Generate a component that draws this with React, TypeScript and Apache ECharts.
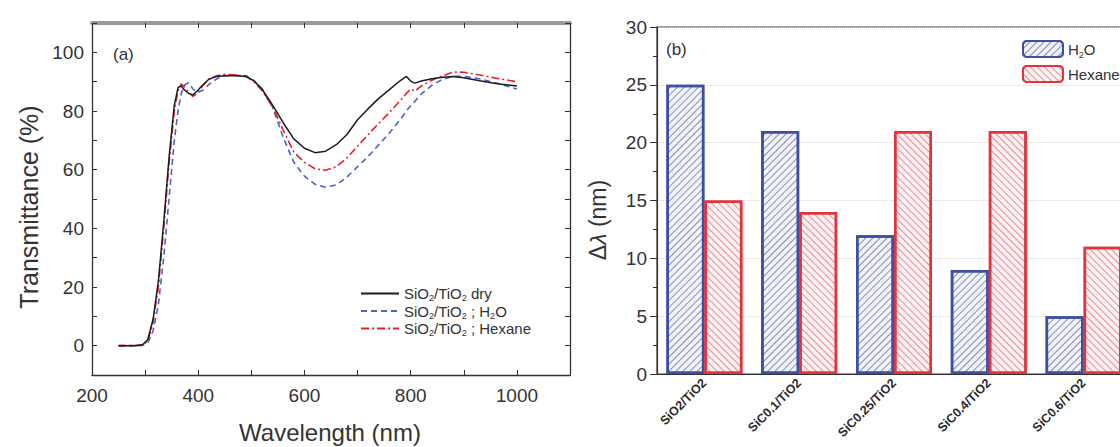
import React, { useEffect, useRef } from "react";
import * as echarts from "echarts";

// Transmission spectra (panel a)
const wavelengths = [
  250, 280, 295, 305, 315, 325, 335, 345, 355, 362, 368, 375, 382, 390, 398, 408, 420, 435, 450, 470, 490,
  505, 520, 540, 560, 580, 600, 620, 640, 660, 680, 700, 720, 740, 760, 780, 792, 800, 808, 820, 840, 860,
  880, 900, 930, 960, 1000,
];
const dryT = [
  0, 0, 0.3, 2, 9, 22, 42, 64, 82, 88, 88.5, 87, 86, 85.5, 86.8, 88.8, 90.8, 91.8, 92, 92, 91.8,
  90.3, 87.5, 82, 76, 70.5, 67.3, 65.8, 66.3, 68.5, 72, 77, 80.8, 84.3, 87.3, 90.3, 91.8, 90.2, 89.5, 90.2, 91, 91.5,
  91.8, 91.3, 90.3, 89.4, 88.5,
];
const waterT = [
  0, 0, 0.1, 1, 5, 14, 30, 50, 70, 80, 86, 89, 89.6, 87.5, 86.3, 87, 89, 91, 92, 92.2, 92,
  90.3, 87.5, 81.3, 71, 62.5, 57.8, 55, 54, 54.8, 57.5, 61, 64.5, 68.5, 72.5, 77, 80, 81.8, 83.3, 85.8, 88.8, 90.8,
  91.8, 91.8, 91, 89.6, 87.5,
];
const hexaneT = [
  0, 0, 0.2, 1.5, 8, 20, 40, 62, 80, 87, 89.3, 88, 86.3, 85, 86, 88.5, 90.8, 92, 92.5, 92.3, 91.8,
  90, 87, 81.5, 73.5, 66, 62.5, 60.3, 59.8, 61, 64, 68, 72, 75.8, 79.5, 83.5, 86, 87.5, 86.8, 88.5, 90.5, 92,
  93.3, 93.2, 92.3, 91.2, 90,
];
const spectrumNames = ["SiO2/TiO2 dry", "SiO2/TiO2 ; H2O", "SiO2/TiO2 ; Hexane"];

// Peak shifts (panel b)
const samples = ["SiO2/TiO2", "SiC0.1/TiO2", "SiC0.25/TiO2", "SiC0.4/TiO2", "SiC0.6/TiO2"];
const shiftWater = [25, 21, 12, 9, 5];
const shiftHexane = [15, 14, 21, 21, 11];
const shiftNames = ["H2O", "Hexane"];

const FONT = "'Liberation Sans', Arial, Helvetica, sans-serif";
const INK = "#333";

// Turns the "2" of chemical formulas into a lowered rich-text token.
function richSub(text: string): string {
  let out = "";
  let buf = "";
  for (let i = 0; i < text.length; i++) {
    const ch = text[i];
    if (ch === "2" && i > 0 && /[A-Za-z]/.test(text[i - 1])) {
      if (buf) out += `{t|${buf}}`;
      buf = "";
      out += "{s|2}";
    } else {
      buf += ch;
    }
  }
  if (buf) out += `{t|${buf}}`;
  return out;
}

const pairs = (ys: number[]) => wavelengths.map((w, i) => [w, ys[i]]);

export default function App() {
  const ref = useRef<HTMLDivElement>(null);

  useEffect(() => {
    if (!ref.current) return;
    const chart = echarts.init(ref.current, undefined, { renderer: "svg" });

    const innerTick = { inside: true, length: 5, lineStyle: { color: INK, width: 1 } };
    const darkLine = { show: true, onZero: false, lineStyle: { color: INK, width: 1.3 } };

    const option: any = {
      animation: false,
      textStyle: { fontFamily: FONT },
      grid: [
        { left: 92, top: 23, width: 478, height: 352 },
        {
          left: 657, top: 27, width: 474, height: 347,
          show: true, borderColor: INK, borderWidth: 1.2, backgroundColor: "transparent",
        },
      ],
      xAxis: [
        {
          type: "value", gridIndex: 0, position: "bottom", min: 200, max: 1100, interval: 100,
          axisLine: darkLine,
          axisTick: innerTick,
          splitLine: { show: false },
          axisLabel: {
            fontSize: 19, color: INK, margin: 11, fontFamily: FONT,
            formatter: (v: number) => (v % 200 === 0 && v <= 1000 ? String(v) : ""),
          },
        },
        {
          type: "value", gridIndex: 0, position: "top", min: 200, max: 1100, interval: 100,
          axisLine: { show: true, onZero: false, lineStyle: { color: "#9a9a9a", width: 4 } },
          axisTick: innerTick,
          splitLine: { show: false },
          axisLabel: { show: false },
        },
        {
          type: "category", gridIndex: 1, data: samples,
          axisLine: { lineStyle: { color: INK, width: 1.2 } },
          axisTick: { alignWithLabel: true, length: 7, lineStyle: { color: INK } },
          axisLabel: {
            rotate: 45, interval: 0, fontSize: 12.5, fontWeight: "bold", margin: 7,
            color: "#2a2a2a", fontFamily: FONT,
          },
        },
      ],
      yAxis: [
        {
          type: "value", gridIndex: 0, position: "left", min: -10, max: 110, interval: 10,
          axisLine: darkLine,
          axisTick: innerTick,
          splitLine: { show: false },
          axisLabel: {
            fontSize: 19, color: INK, margin: 8, fontFamily: FONT,
            formatter: (v: number) => (v % 20 === 0 && v >= 0 && v <= 100 ? String(v) : ""),
          },
        },
        {
          type: "value", gridIndex: 0, position: "right", min: -10, max: 110, interval: 10,
          axisLine: darkLine,
          axisTick: innerTick,
          splitLine: { show: false },
          axisLabel: { show: false },
        },
        {
          type: "value", gridIndex: 1, min: 0, max: 30, interval: 5,
          axisLine: { show: true, lineStyle: { color: INK, width: 1.2 } },
          axisTick: { show: true, length: 7, lineStyle: { color: INK } },
          minorTick: { show: true, splitNumber: 2, length: 4, lineStyle: { color: INK } },
          splitLine: { show: true, lineStyle: { type: "dotted", color: "#d6d6d6", width: 1 } },
          axisLabel: { fontSize: 19, color: INK, margin: 10, fontFamily: FONT },
        },
      ],
      legend: [
        {
          data: spectrumNames,
          orient: "vertical",
          left: 355, top: 281,
          itemWidth: 38, itemHeight: 14, itemGap: 1,
          itemStyle: { opacity: 0, borderWidth: 0 },
          formatter: richSub,
          textStyle: {
            color: INK, fontSize: 15, fontFamily: FONT,
            rich: {
              t: { fontSize: 15, lineHeight: 18, fontFamily: FONT, color: INK },
              s: { fontSize: 9, lineHeight: 9, verticalAlign: "bottom", fontFamily: FONT, color: INK },
            },
          },
        },
        {
          data: shiftNames,
          orient: "vertical",
          left: 1017, top: 35,
          itemWidth: 40, itemHeight: 16, itemGap: 6,
          formatter: richSub,
          textStyle: {
            color: INK, fontSize: 15, fontFamily: FONT,
            rich: {
              t: { fontSize: 15, lineHeight: 20, fontFamily: FONT, color: INK },
              s: { fontSize: 9, lineHeight: 10, verticalAlign: "bottom", fontFamily: FONT, color: INK },
            },
          },
        },
      ],
      series: [
        {
          type: "line", name: spectrumNames[1], xAxisIndex: 0, yAxisIndex: 0,
          data: pairs(waterT), symbol: "none",
          lineStyle: { color: "#4d63c4", width: 1.6, type: [6, 4] },
          itemStyle: { color: "#4d63c4" },
        },
        {
          type: "line", name: spectrumNames[2], xAxisIndex: 0, yAxisIndex: 0,
          data: pairs(hexaneT), symbol: "none",
          lineStyle: { color: "#e5222b", width: 1.6, type: [8, 3, 2, 3] },
          itemStyle: { color: "#e5222b" },
        },
        {
          type: "line", name: spectrumNames[0], xAxisIndex: 0, yAxisIndex: 0,
          data: pairs(dryT), symbol: "none",
          lineStyle: { color: "#1c1c1c", width: 1.5 },
          itemStyle: { color: "#1c1c1c" },
        },
        {
          type: "bar", name: shiftNames[0], xAxisIndex: 2, yAxisIndex: 2,
          data: shiftWater, barWidth: 38, barGap: "0%",
          itemStyle: {
            color: "#f3f4f9", borderColor: "#3c4fa3", borderWidth: 2.5,
            decal: {
              symbol: "rect", symbolSize: 1, dashArrayX: [1, 0], dashArrayY: [0.9, 3.2],
              rotation: -Math.PI / 4, color: "rgba(60,75,145,0.6)",
            },
          },
        },
        {
          type: "bar", name: shiftNames[1], xAxisIndex: 2, yAxisIndex: 2,
          data: shiftHexane, barWidth: 38,
          itemStyle: {
            color: "#fdf2f3", borderColor: "#e3343d", borderWidth: 2.5,
            decal: {
              symbol: "rect", symbolSize: 1, dashArrayX: [1, 0], dashArrayY: [0.9, 3.2],
              rotation: Math.PI / 4, color: "rgba(215,75,85,0.6)",
            },
          },
        },
      ],
      graphic: [
        {
          type: "text", x: 113, y: 54,
          style: { text: "(a)", fontSize: 17, fontFamily: FONT, fill: INK, align: "left", verticalAlign: "middle" },
        },
        {
          type: "text", x: 666, y: 49,
          style: { text: "(b)", fontSize: 17, fontFamily: FONT, fill: INK, align: "left", verticalAlign: "middle" },
        },
        {
          type: "text", x: 29, y: 207, rotation: Math.PI / 2,
          style: { text: "Transmittance (%)", fontSize: 25, fontFamily: FONT, fill: INK, align: "center", verticalAlign: "middle" },
        },
        {
          type: "text", x: 330, y: 432,
          style: { text: "Wavelength (nm)", fontSize: 24, fontFamily: FONT, fill: INK, align: "center", verticalAlign: "middle" },
        },
        {
          type: "text", x: 598, y: 220, rotation: Math.PI / 2,
          style: {
            text: "{n|Δ}{i|λ}{n| (nm)}",
            fill: INK, align: "center", verticalAlign: "middle",
            rich: {
              n: { fontSize: 23, fontFamily: FONT, fill: INK },
              i: { fontSize: 23, fontFamily: FONT, fontStyle: "italic", fill: INK },
            },
          },
        },
      ],
    };

    chart.setOption(option);
    return () => chart.dispose();
  }, []);

  return (
    <div style={{ position: "fixed", left: 0, top: 0, width: 1120, height: 447, overflow: "hidden", background: "#fff" }}>
      <div ref={ref} style={{ width: 1160, height: 447 }} />
    </div>
  );
}
